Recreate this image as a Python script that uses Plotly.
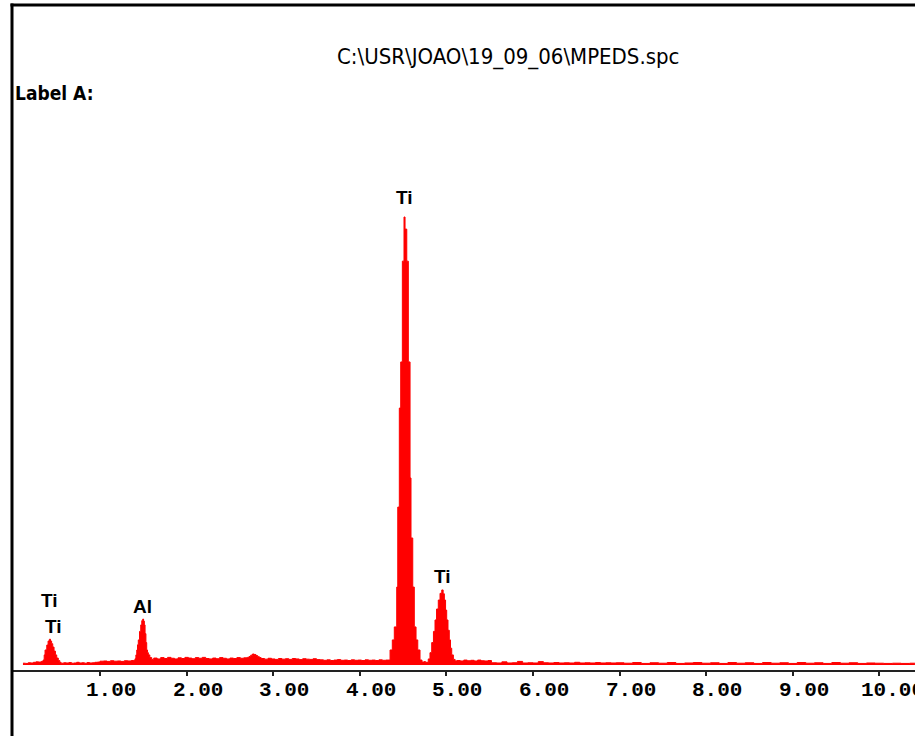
import plotly.graph_objects as go

# ---- data (energy in keV, counts) ----
energy = [
    0.11, 0.14, 0.17, 0.20, 0.23, 0.26, 0.29, 0.32,
    0.342, 0.355, 0.365, 0.385, 0.40, 0.415, 0.428, 0.441, 0.454, 0.469, 0.485, 0.50, 0.518, 0.535,
    0.55, 0.58, 0.61, 0.64, 0.67, 0.70, 0.73, 0.76, 0.79, 0.82, 0.85, 0.88, 0.91, 0.94, 0.97,
    1.00, 1.04, 1.08, 1.12, 1.16, 1.20, 1.24, 1.28, 1.32, 1.36, 1.39,
    1.404, 1.414, 1.424, 1.433, 1.442, 1.456, 1.47, 1.482, 1.493, 1.503, 1.512, 1.52, 1.53, 1.539,
    1.548, 1.558, 1.575, 1.597,
    1.62, 1.66, 1.70, 1.74, 1.78, 1.82, 1.86, 1.90, 1.94, 1.98, 2.02, 2.06, 2.10, 2.14, 2.18, 2.22,
    2.26, 2.30, 2.34, 2.38, 2.42, 2.46, 2.50, 2.54, 2.58, 2.62, 2.66,
    2.70, 2.72, 2.74, 2.76, 2.78, 2.80, 2.82, 2.84,
    2.86, 2.90, 2.94, 2.98, 3.02, 3.06, 3.10, 3.14, 3.18, 3.22, 3.26, 3.30, 3.34, 3.38, 3.42, 3.46, 3.50,
    3.54, 3.58, 3.62, 3.66, 3.70, 3.74, 3.78, 3.82, 3.86, 3.90, 3.94, 3.98, 4.02, 4.06, 4.10, 4.14,
    4.18, 4.22, 4.26, 4.30,
    4.325, 4.349, 4.375, 4.398, 4.426, 4.438, 4.456, 4.472, 4.491, 4.510, 4.522, 4.542, 4.560, 4.580,
    4.591, 4.611, 4.629, 4.649, 4.669, 4.695, 4.718, 4.74, 4.76,
    4.79, 4.81, 4.83, 4.85, 4.868, 4.886, 4.906, 4.926, 4.946, 4.962, 4.976, 4.99, 5.003, 5.018, 5.033,
    5.047, 5.061, 5.08, 5.10,
    5.12, 5.16, 5.20, 5.24, 5.28, 5.32, 5.36, 5.40, 5.44, 5.48,
    5.52, 5.58, 5.64, 5.70, 5.76, 5.82, 5.88, 5.94, 6.00, 6.06, 6.12, 6.18, 6.24, 6.30, 6.36, 6.42,
    6.48, 6.54, 6.60, 6.66, 6.72, 6.78, 6.84, 6.90, 6.96,
    7.05, 7.15, 7.25, 7.35, 7.45, 7.55, 7.65, 7.75, 7.85, 7.95, 8.05, 8.15, 8.25, 8.35, 8.45, 8.55,
    8.65, 8.75, 8.85, 8.95, 9.05, 9.15, 9.25, 9.35, 9.45, 9.55, 9.65, 9.75, 9.85, 9.95, 10.05, 10.15,
    10.25, 10.35, 10.41,
]
counts = [
    8, 7, 10, 9, 12, 14, 13, 16,
    22, 45, 67, 89, 107, 115, 107, 95, 80, 62, 45, 31, 20, 12,
    8, 10, 9, 11, 8, 9, 12, 9, 10, 8, 11, 9, 10, 12, 13,
    17, 18, 16, 19, 17, 18, 16, 19, 18, 20, 21,
    28, 45, 67, 90, 112, 150, 179, 198, 205, 196, 179, 140, 100, 67,
    55, 45, 33, 25,
    31, 27, 33, 29, 34, 30, 27, 32, 29, 34, 31, 28, 33, 30, 34, 29,
    27, 31, 28, 33, 30, 27, 31, 29, 33, 30, 32,
    34, 38, 44, 49, 47, 42, 37, 33,
    29, 26, 30, 27, 25, 29, 26, 28, 25, 29, 27, 24, 28, 26, 25, 28, 24,
    23, 21, 23, 20, 22, 24, 21, 22, 20, 23, 21, 22, 20, 23, 21, 22,
    20, 23, 21, 22,
    22, 67, 112, 170, 348, 705, 1147, 1353, 1803, 2000, 1946, 1803, 1353, 835,
    567, 348, 170, 112, 67, 22, 13, 15, 12,
    27, 55, 100, 150, 201, 250, 290, 320, 335, 318, 290, 245, 201, 155, 112,
    75, 45, 25, 18,
    20, 18, 22, 19, 21, 18, 22, 19, 18, 20,
    10, 9, 14, 9, 10, 16, 9, 10, 9, 15, 10, 9, 11, 9, 10, 9,
    12, 9, 10, 9, 11, 9, 10, 9, 10,
    8, 11, 7, 10, 8, 11, 7, 9, 11, 8, 10, 7, 11, 8, 10, 7,
    11, 8, 10, 7, 11, 8, 10, 7, 11, 8, 10, 7, 9, 8, 7, 8,
    7, 8, 8,
]

tick_values = [1, 2, 3, 4, 5, 6, 7, 8, 9, 10]
tick_labels = ["1.00", "2.00", "3.00", "4.00", "5.00", "6.00", "7.00", "8.00", "9.00", "10.00"]

peak_labels = ["Ti", "Ti", "Al", "Ti", "Ti"]
peak_label_x = [0.411, 0.468, 1.496, 4.52, 4.96]
peak_label_y = [290, 174, 263, 2085, 393]

title_text = "C:\\USR\\JOAO\\19_09_06\\MPEDS.spc"
label_text = "Label A:"

# ---- figure ----
W, H = 915, 736
ML, MR, MT, MB = 13, 0, 120, 66
PW, PH = W - ML - MR, H - MT - MB


def px_to_paper_x(px):
    return (px - ML) / PW


def py_to_paper_y(py):
    return (H - MB - py) / PH


fig = go.Figure()
fig.add_trace(go.Scatter(
    x=energy, y=counts, mode="lines", line=dict(color="#ff0000", width=1, shape="hv"),
    fill="tozeroy", fillcolor="#ff0000", hoverinfo="skip", showlegend=False,
))

# y=0 sits 5 px above the axis line, peak top ~ y=217 px
ymax_count = 2000
y_range_total = ymax_count * PH / (670 - 5 - 217)
ymin = -5 * y_range_total / PH
ymax = ymin + y_range_total

fig.update_layout(
    width=W, height=H,
    margin=dict(l=ML, r=MR, t=MT, b=MB, pad=0),
    paper_bgcolor="white", plot_bgcolor="white",
    showlegend=False,
    xaxis=dict(
        range=[-0.005, -0.005 + PW / 86.6],
        showgrid=False, zeroline=False,
        showline=True, linecolor="#222222", linewidth=2,
        ticks="outside", ticklen=4, tickwidth=2, tickcolor="#222222",
        tickvals=tick_values, showticklabels=False,
        fixedrange=True,
    ),
    yaxis=dict(
        range=[ymin, ymax], visible=False, fixedrange=True,
    ),
)

annotations = []
for v, t in zip(tick_values, tick_labels):
    annotations.append(dict(
        x=v, y=py_to_paper_y(690), xref="x", yref="paper", text=t, showarrow=False,
        xanchor="center", yanchor="middle", xshift=11 if v < 10 else 13,
        font=dict(family="Liberation Mono, DejaVu Sans Mono, monospace", size=21,
                  color="black", weight="bold"),
    ))
for t, x, y in zip(peak_labels, peak_label_x, peak_label_y):
    annotations.append(dict(
        x=x, y=y, xref="x", yref="y", text=t, showarrow=False,
        xanchor="center", yanchor="middle",
        font=dict(family="Liberation Sans, Arial, sans-serif", size=19, color="black",
                  weight="bold"),
    ))
annotations.append(dict(
    x=px_to_paper_x(508), y=py_to_paper_y(57), xref="paper", yref="paper", text=title_text,
    showarrow=False, xanchor="center", yanchor="middle",
    font=dict(family="Liberation Sans Narrow, DejaVu Sans Condensed, Arial Narrow, sans-serif",
              size=22, color="black"),
))
annotations.append(dict(
    x=px_to_paper_x(13), y=py_to_paper_y(93), xref="paper", yref="paper", text=label_text,
    showarrow=False, xanchor="left", yanchor="middle",
    font=dict(family="Liberation Sans Narrow, DejaVu Sans Condensed, Arial Narrow, sans-serif",
              size=19, color="black", weight="bold"),
))
fig.update_layout(annotations=annotations)

# frame (left and top borders)
fig.add_shape(type="line", xref="paper", yref="paper",
              x0=px_to_paper_x(12), x1=px_to_paper_x(12),
              y0=py_to_paper_y(3.5), y1=py_to_paper_y(740),
              line=dict(color="black", width=3))
fig.add_shape(type="line", xref="paper", yref="paper",
              x0=px_to_paper_x(10.5), x1=px_to_paper_x(920),
              y0=py_to_paper_y(5), y1=py_to_paper_y(5),
              line=dict(color="black", width=3))

fig.write_html(
    "out.html",
    config={"displayModeBar": False},
    post_script="document.body.style.margin='0';document.body.style.padding='0';"
                "document.body.style.overflow='hidden';",
)
